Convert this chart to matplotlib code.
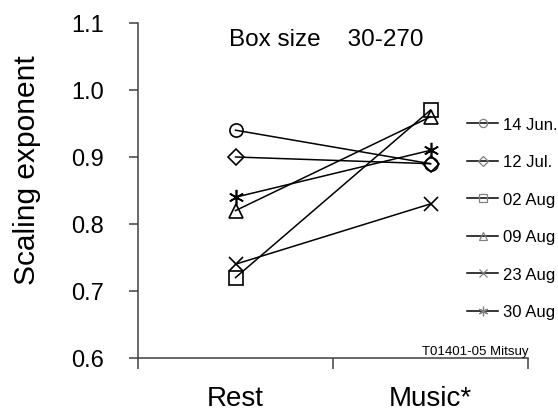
import matplotlib
matplotlib.use("Agg")
import matplotlib.pyplot as plt
from matplotlib.lines import Line2D

plt.rcParams['font.family'] = ['Liberation Sans', 'DejaVu Sans']

conditions = ["Rest", "Music*"]
dates = ["14 Jun.", "12 Jul.", "02 Aug", "09 Aug", "23 Aug", "30 Aug"]
rest_values = [0.94, 0.90, 0.72, 0.82, 0.74, 0.84]
music_values = [0.89, 0.89, 0.97, 0.96, 0.83, 0.91]
markers = ["o", "D", "s", "^", "x", (6, 2, 0)]
marker_sizes = [9.5, 8.0, 9.5, 10, 10, 11]
yticks = [0.6, 0.7, 0.8, 0.9, 1.0, 1.1]

W, H = 558, 414
fig = plt.figure(figsize=(W / 100, H / 100), dpi=100)
ax = fig.add_axes([138 / W, 1 - 359 / H, (528 - 138) / W, (359 - 24) / H])

xpos = [0.5, 1.5]
for i, d in enumerate(dates):
    ax.plot(xpos, [rest_values[i], music_values[i]], color='black', lw=1.1,
            marker=markers[i], ms=marker_sizes[i], mfc='none', mec='black',
            mew=1.2, clip_on=False)

ax.set_xlim(0, 2)
ax.set_ylim(0.6, 1.1)
ax.set_yticks(yticks)
ax.set_yticklabels([f"{v:.1f}" for v in yticks], fontsize=17)
ax.set_xticks([0, 1, 2])
ax.set_xticklabels([])
ax.set_xticks(xpos, minor=True)
ax.set_xticklabels(conditions, minor=True, fontsize=20)
ax.tick_params(axis='x', which='minor', length=0, pad=19.5)
ax.tick_params(axis='x', which='major', length=8, width=1.1, color='#404040', direction='out')
ax.tick_params(axis='y', length=6.5, width=1.1, color='#404040', pad=18)
for s in ['top', 'right']:
    ax.spines[s].set_visible(False)
for s in ['left', 'bottom']:
    ax.spines[s].set_color('#404040')
    ax.spines[s].set_linewidth(1.1)

handles = [Line2D([], [], color='black', lw=1.1, marker=m, ms=ms * 0.62,
                  mfc='none', mec='#808080', mew=0.9)
           for m, ms in zip(markers, marker_sizes)]
fig.legend(handles, dates, loc='upper left', bbox_to_anchor=(467 / W, 1 - 118 / H),
           frameon=False, fontsize=12, handlelength=1.86, handletextpad=0.3,
           labelspacing=1.35, borderpad=0, borderaxespad=0)

fig.text(229 / W, 1 - 45.7 / H, "Box size    30-270", fontsize=17.5, va='baseline', ha='left')
fig.text(528 / W, 1 - 355 / H, "T01401-05 Mitsuy", fontsize=9.5, va='baseline', ha='right')
fig.text(27 / W, 1 - 170 / H, "Scaling exponent", fontsize=21.5, rotation=90,
         va='center', ha='center')

fig.savefig("out.png", dpi=100)
